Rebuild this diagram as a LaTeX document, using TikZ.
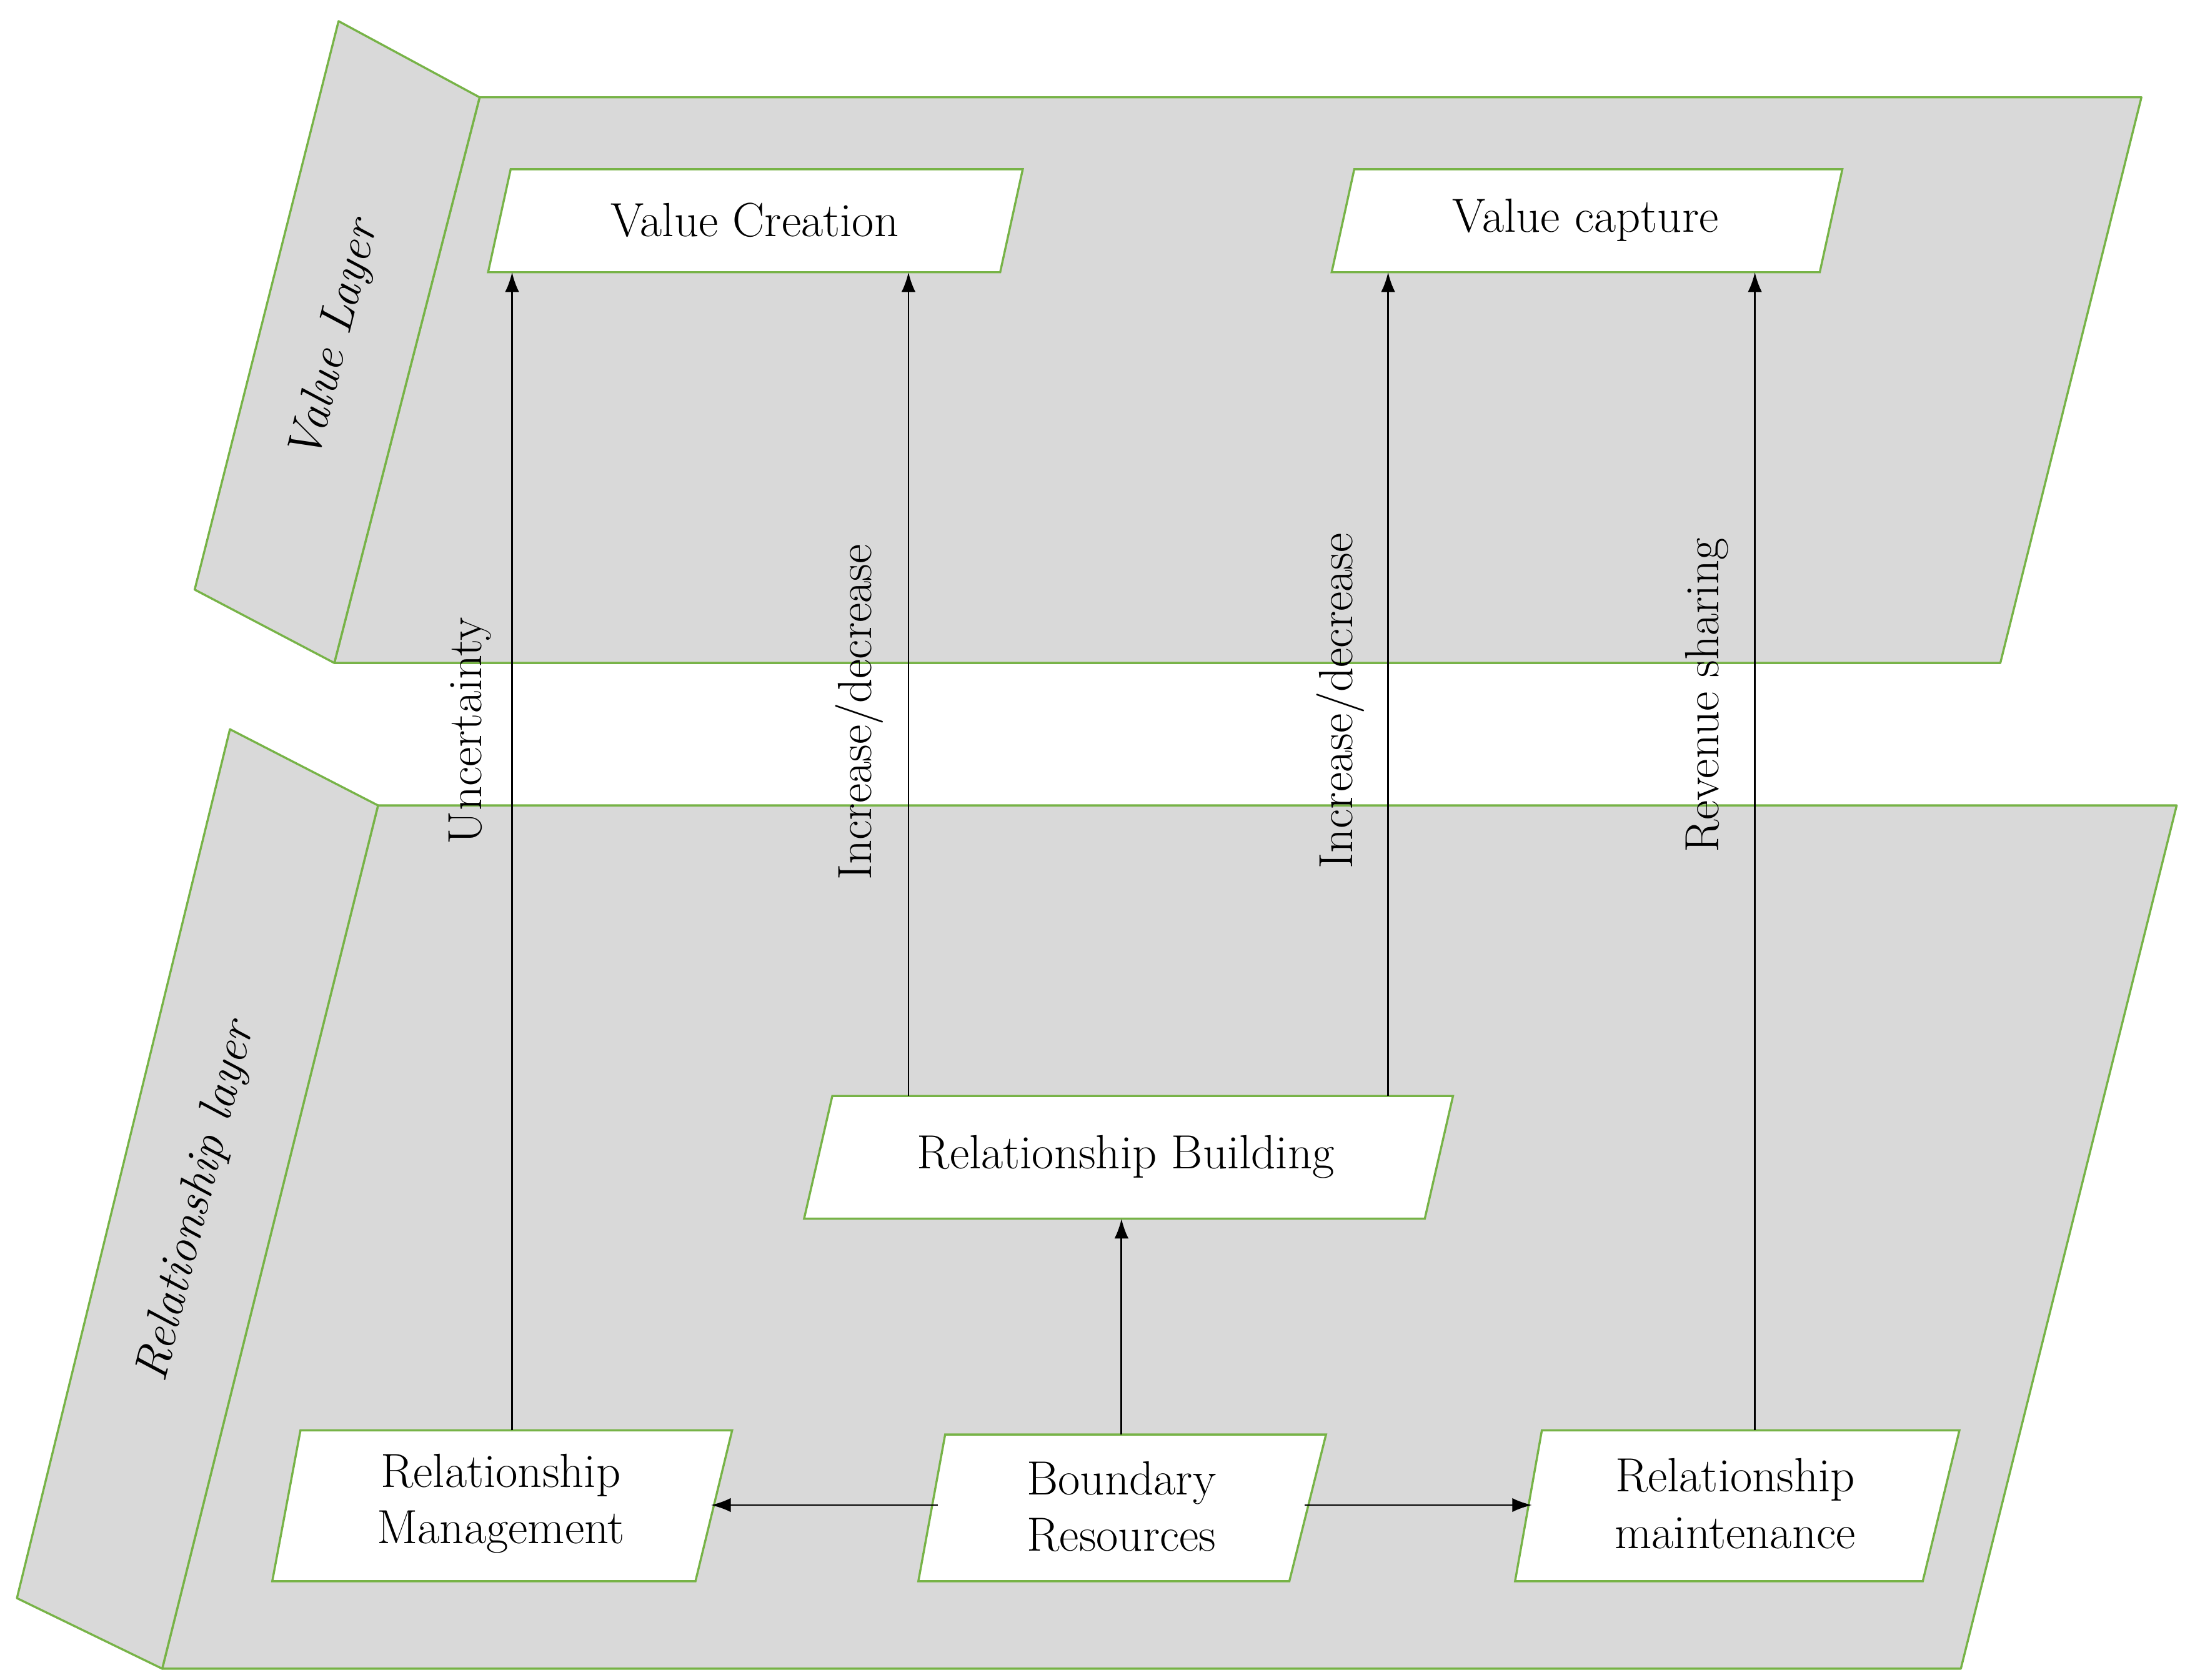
\documentclass[tikz,border=0pt]{standalone}
\usetikzlibrary{arrows.meta}
\definecolor{plane}{HTML}{D9D9D9}
\definecolor{edge}{HTML}{77B347}
\begin{document}
\begin{tikzpicture}[x=1pt,y=-1pt,
  layer/.style={fill=plane,draw=edge,line width=1.5pt,line join=round},
  box/.style={fill=white,draw=edge,line width=1.5pt},
  txt/.style={font=\fontsize{34}{40}\selectfont,align=center},
  lbl/.style={font=\fontsize{34}{40}\selectfont,rotate=90},
  llbl/.style={font=\fontsize{34}{40}\selectfont\itshape},
  arr/.style={-{Latex[length=14pt,width=10pt]},line width=1.3pt}]
\useasboundingbox (0,0) rectangle (1556,1191);
% value layer
\draw[layer] (340,69) -- (1518,69) -- (1418,470) -- (237,470) -- cycle;
\draw[layer] (240,15) -- (340,69) -- (237,470) -- (138,418) -- cycle;
% relationship layer
\draw[layer] (268,571) -- (1543,571) -- (1390,1183) -- (115,1183) -- cycle;
\draw[layer] (163,517) -- (268,571) -- (115,1183) -- (12,1133) -- cycle;
\node[llbl,rotate=76] (vl) at (238,242) {Value Layer};
\node[llbl,rotate=76] (rl) at (140,852) {Relationship layer};
% boxes
\draw[box] (362,120) -- (725,120) -- (709,193) -- (346,193) -- cycle;
\node[txt] (vc) at (535,156) {Value Creation};
\draw[box] (960,120) -- (1306,120) -- (1290,193) -- (944,193) -- cycle;
\node[txt] (vcap) at (1124,156) {Value capture};
\draw[box] (590,777) -- (1030,777) -- (1010,864) -- (570,864) -- cycle;
\node[txt] (rb) at (798,820) {Relationship Building};
\draw[box] (213,1014) -- (519,1014) -- (493,1121) -- (193,1121) -- cycle;
\node[txt] (rm) at (355,1066) {Relationship\\Management};
\draw[box] (670,1017) -- (940,1017) -- (914,1121) -- (651,1121) -- cycle;
\node[txt] (br) at (795,1068) {Boundary\\Resources};
\draw[box] (1093,1014) -- (1389,1014) -- (1363,1121) -- (1074,1121) -- cycle;
\node[txt] (rmt) at (1230,1066) {Relationship\\maintenance};
% arrow endpoints
\coordinate (a1s) at (363,1014); \coordinate (a1e) at (363,193);
\coordinate (a2s) at (644,777);  \coordinate (a2e) at (644,193);
\coordinate (a3s) at (984,777);  \coordinate (a3e) at (984,193);
\coordinate (a4s) at (1244,1014);\coordinate (a4e) at (1244,193);
\coordinate (a5s) at (795,1017); \coordinate (a5e) at (795,864);
\coordinate (a6s) at (665,1067); \coordinate (a6e) at (504,1067);
\coordinate (a7s) at (925,1067); \coordinate (a7e) at (1086,1067);
\draw[arr] (a1s) -- (a1e);
\draw[arr] (a2s) -- (a2e);
\draw[arr] (a3s) -- (a3e);
\draw[arr] (a4s) -- (a4e);
\draw[arr] (a5s) -- (a5e);
\draw[arr] (a6s) -- (a6e);
\draw[arr] (a7s) -- (a7e);
\node[lbl] (l1) at (333,518) {Uncertainty};
\node[lbl] (l2) at (609,505) {Increase/decrease};
\node[lbl] (l3) at (950,497) {Increase/decrease};
\node[lbl] (l4) at (1210,493) {Revenue sharing};
\end{tikzpicture}
\end{document}
